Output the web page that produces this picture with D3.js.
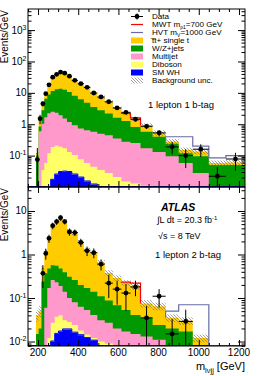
<!DOCTYPE html>
<html>
<head>
<meta charset="utf-8">
<script src="https://cdn.jsdelivr.net/npm/d3@7"></script>
<style>
  body { margin: 0; background: #fff; }
  text { font-family: "Liberation Sans", Arial, sans-serif; }
</style>
</head>
<body>
<svg id="chart" width="258" height="376"></svg>
<script>
// bin edges in GeV (shared by both panels)
var binEdges = [190, 203, 217, 231, 246, 263, 283, 302, 322, 344, 368, 398, 428, 460, 495, 532, 572, 615, 660, 710, 770, 835, 900, 970, 1050, 1135, 1230];

// 1 lepton 1 b-tag (Events/GeV)
var oneTagWH       = [0, 0, 0, 0, 0, 0.017, 0.025, 0.03, 0.031, 0.03, 0.025, 0.02, 0.015, 0.012, 0, 0, 0, 0, 0, 0, 0, 0, 0, 0, 0, 0];
var oneTagDiboson  = [0, 0, 0.035, 0.058, 0.12, 0.17, 0.185, 0.16, 0.14, 0.1, 0.08, 0.056, 0.043, 0.032, 0.035, 0.028, 0.021, 0.015, 0.013, 0.011, 0, 0, 0, 0, 0, 0];
var oneTagMultijet = [0, 0.6, 1.0, 1.6, 2.1, 2.3, 2.1, 1.75, 1.35, 1.05, 0.82, 0.65, 0.58, 0.53, 0.46, 0.42, 0.33, 0.26, 0.24, 0.16, 0.13, 0.095, 0.058, 0.028, 0, 0];
var oneTagWZ       = [0.1, 0.25, 1.75, 4.8, 6.6, 8.9, 10.6, 11.6, 11.0, 9.4, 7.1, 5.5, 4.2, 3.0, 2.3, 1.75, 1.25, 1.0, 0.57, 0.4, 0.27, 0.145, 0.062, 0.067, 0.05, 0.05];
var oneTagTtbar    = [0.02, 0.75, 1.8, 3.0, 9.2, 18.6, 25, 30.5, 29.5, 23.4, 17, 13.3, 10.2, 6.4, 4.6, 3.0, 1.8, 0.9, 0.68, 0.36, 0.13, 0.04, 0.03, 0.04, 0.008, 0.01];
var oneTagMWT      = [0, 0, 0, 0, 0, 0, 0, 0, 0, 0, 0, 0, 0, 0, 0, 0, 0, 0.06, 0.1, 0, 0, 0, 0, 0, 0, 0];
var oneTagHVT      = [0, 0, 0, 0, 0, 0, 0, 0, 0, 0, 0, 0, 0, 0, 0, 0, 0, 0, 0, 0, 0, 0.12, 0.25, 0.065, 0.027, 0.04];
var oneTagUnc      = [0.1, 0.1, 0.1, 0.1, 0.1, 0.1, 0.1, 0.1, 0.1, 0.1, 0.1, 0.1, 0.1, 0.1, 0.12, 0.12, 0.12, 0.12, 0.15, 0.15, 0.2, 0.2, 0.2, 0.2, 0.2, 0.2];
var oneTagData     = [0.075, 1.5, 4.5, 9.4, 18, 31.7, 39, 46, 42.5, 34, 25, 19.6, 15, 9.9, 7.4, 5.2, 3.3, 2.4, 1.44, 0.86, 0.53, 0.19, 0.1, 0.16, 0.022, 0.078];
var oneTagDataErr  = [0.1, 0.5, 0.8, 1.0, 1.4, 1.8, 2, 2.2, 2.2, 1.8, 1.3, 1.1, 0.9, 0.7, 0.5, 0.45, 0.35, 0.3, 0.2, 0.15, 0.12, 0.08, 0.06, 0.07, 0.021, 0.045];

// 1 lepton 2 b-tag (Events/GeV)
var twoTagWH       = [0, 0, 0, 0, 0, 0.01, 0.015, 0.017, 0.019, 0.019, 0.016, 0.014, 0.012, 0.0105, 0, 0, 0, 0, 0, 0, 0, 0, 0, 0, 0, 0];
var twoTagDiboson  = [0, 0, 0, 0, 0.012, 0.017, 0.022, 0.023, 0.012, 0.009, 0.008, 0.004, 0.0025, 0.0015, 0.01, 0.009, 0, 0, 0, 0, 0, 0, 0, 0, 0, 0];
var twoTagMultijet = [0, 0, 0, 0.06, 0.158, 0.233, 0.193, 0.15, 0.109, 0.072, 0.056, 0.045, 0.0385, 0.029, 0.021, 0.018, 0.02, 0.017, 0.015, 0.013, 0.011, 0, 0, 0, 0, 0];
var twoTagWZ       = [0.015, 0.02, 0.24, 0.31, 0.31, 0.31, 0.32, 0.29, 0.25, 0.21, 0.18, 0.137, 0.117, 0.099, 0.079, 0.061, 0.048, 0.036, 0.026, 0.022, 0.013, 0.02, 0.017, 0, 0, 0];
var twoTagTtbar    = [0.025, 0.03, 0.26, 0.83, 1.92, 3.93, 5.25, 6.02, 5.41, 3.39, 2.74, 1.8, 1.13, 0.91, 0.54, 0.29, 0.22, 0.17, 0.15, 0.04, 0.041, 0.015, 0.013, 0.012, 0, 0];
var twoTagMWT      = [0, 0, 0, 0, 0, 0, 0, 0, 0, 0, 0, 0, 0, 0, 0, 0, 0, 0.01, 0.03, 0, 0, 0, 0, 0, 0, 0];
var twoTagHVT      = [0, 0, 0, 0, 0, 0, 0, 0, 0, 0, 0, 0, 0, 0, 0, 0, 0, 0, 0, 0, 0, 0.015, 0.04, 0.058, 0, 0];
var twoTagUnc      = [0.3, 0.3, 0.1, 0.1, 0.1, 0.1, 0.1, 0.1, 0.1, 0.1, 0.1, 0.1, 0.1, 0.1, 0.15, 0.15, 0.15, 0.15, 0.2, 0.2, 0.2, 0.2, 0.2, 0.2, 0.2, 0.2];
var twoTagData     = [null, null, 0.37, 1.06, 2.35, 4.6, 5.7, 7.0, 5.7, 3.3, 3.2, 1.9, 1.22, 1.1, 0.6, 0.22, 0.16, 0.13, 0.18, 0.035, 0.11, 0.015, 0.029, null, null, null];
var twoTagDataErr  = [0, 0, 0.2, 0.3, 0.5, 0.8, 0.9, 1.0, 0.8, 0.6, 0.55, 0.4, 0.3, 0.28, 0.17, 0.12, 0.09, 0.08, 0.07, 0.03, 0.05, 0.018, 0.025, 0, 0, 0];

var legendLabels = ["Data", "MWT m\u03C11=700 GeV", "HVT mV=1000 GeV", "t\u0305t+ single t", "W/Z+jets", "Multijet", "Diboson", "SM WH", "Background unc."];

var colors = { ttbar: "#ffcc00", wz: "#009900", multijet: "#ff99cc", diboson: "#ffff66", wh: "#0000ff", mwt: "#ff0000", hvt: "#6a6aa8" };

var svg = d3.select("#chart");
var defs = svg.append("defs");
var hatch = defs.append("pattern")
  .attr("id", "hatch")
  .attr("patternUnits", "userSpaceOnUse")
  .attr("width", 3).attr("height", 3);
hatch.append("path")
  .attr("d", "M0,0 L3,3 M-1,2 L1,4 M2,-1 L4,1")
  .attr("stroke", "#777").attr("stroke-width", 0.7);

var x = d3.scaleLinear().domain([150, 1230]).range([28, 245]);

var layerKeys = ["wh", "diboson", "multijet", "wz", "ttbar"];

function drawPanel(p) {
  var y = d3.scaleLog().domain(p.yDomain).range([p.bottom, p.top]);
  var floor = p.yDomain[0];
  var yc = function(v) { return y(Math.max(v, floor)); };
  var g = svg.append("g");
  var nb = binEdges.length - 1;

  var rows = d3.range(nb).map(function(i) {
    return { wh: p.wh[i], diboson: p.diboson[i], multijet: p.multijet[i], wz: p.wz[i], ttbar: p.ttbar[i] };
  });
  var series = d3.stack().keys(layerKeys)(rows);
  var total = rows.map(function(r, i) { return series[series.length - 1][i][1]; });

  var clip = "clip" + p.id;
  defs.append("clipPath").attr("id", clip).append("rect")
    .attr("x", x.range()[0]).attr("y", p.top)
    .attr("width", x.range()[1] - x.range()[0]).attr("height", p.bottom - p.top);
  var plot = g.append("g").attr("clip-path", "url(#" + clip + ")");

  // stacked layers drawn from floor, largest first
  series.slice().reverse().forEach(function(s) {
    var pts = [];
    s.forEach(function(d, i) {
      pts.push([binEdges[i], d[1]]);
      pts.push([binEdges[i + 1], d[1]]);
    });
    plot.append("path")
      .attr("d", d3.area().x(function(d) { return x(d[0]); }).y0(p.bottom).y1(function(d) { return yc(d[1]); })(pts))
      .attr("fill", colors[s.key]);
  });

  // SM WH outline (runs along the floor where empty)
  var whPts = [[x.domain()[0], floor]];
  p.wh.forEach(function(v, i) {
    whPts.push([binEdges[i], v]);
    whPts.push([binEdges[i + 1], v]);
  });
  plot.append("path")
    .attr("d", d3.line().x(function(d) { return x(d[0]); }).y(function(d) { return yc(d[1]) - 0.5; })(whPts))
    .attr("fill", "none").attr("stroke", colors.wh).attr("stroke-width", 1);

  // background uncertainty
  var uncBins = d3.range(nb).filter(function(i) { return total[i] > 0; });
  plot.selectAll(".unc").data(uncBins).enter().append("rect")
    .attr("x", function(i) { return x(binEdges[i]); })
    .attr("width", function(i) { return x(binEdges[i + 1]) - x(binEdges[i]); })
    .attr("y", function(i) { return yc(total[i] * (1 + p.unc[i])); })
    .attr("height", function(i) { return yc(total[i] * (1 - p.unc[i])) - yc(total[i] * (1 + p.unc[i])); })
    .attr("fill", "url(#hatch)");

  // signal outlines stacked on background
  [["mwt", p.mwt], ["hvt", p.hvt]].forEach(function(sg) {
    var vals = sg[1];
    var i0 = vals.findIndex(function(v) { return v > 0; });
    if (i0 < 0) return;
    var pts = [[binEdges[i0], total[i0]]];
    var last = i0;
    for (var i = i0; i < nb; i++) {
      if (!(vals[i] > 0 || total[i] <= 0)) break;
      pts.push([binEdges[i], total[i] + vals[i]]);
      pts.push([binEdges[i + 1], total[i] + vals[i]]);
      last = i;
    }
    if (last < nb - 1) pts.push([binEdges[last + 1], total[last + 1]]);
    plot.append("path")
      .attr("d", d3.line().x(function(d) { return x(d[0]); }).y(function(d) { return yc(d[1]); })(pts))
      .attr("fill", "none").attr("stroke", colors[sg[0]]).attr("stroke-width", 1.2);
  });

  // data points
  var dat = p.data.map(function(v, i) { return { v: v, e: p.err[i], i: i }; }).filter(function(d) { return d.v != null; });
  var cx = function(d) { return x((binEdges[d.i] + binEdges[d.i + 1]) / 2); };
  var dg = plot.append("g");
  dg.selectAll(".eh").data(dat).enter().append("line")
    .attr("x1", function(d) { return x(binEdges[d.i]); })
    .attr("x2", function(d) { return x(binEdges[d.i + 1]); })
    .attr("y1", function(d) { return y(d.v); })
    .attr("y2", function(d) { return y(d.v); })
    .attr("stroke", "#000").attr("stroke-width", 1);
  dg.selectAll(".ev").data(dat).enter().append("line")
    .attr("x1", cx).attr("x2", cx)
    .attr("y1", function(d) { return yc(d.v - d.e); })
    .attr("y2", function(d) { return yc(d.v + d.e); })
    .attr("stroke", "#000").attr("stroke-width", 1);
  dg.selectAll("circle").data(dat).enter().append("circle")
    .attr("cx", cx)
    .attr("cy", function(d) { return y(d.v); })
    .attr("r", 2.4).attr("fill", "#000");

  // axes with inward ticks
  var majors = p.decades.map(function(e) { return Math.pow(10, e); });
  var minors = [];
  for (var e = Math.floor(Math.log10(floor)); e <= Math.ceil(Math.log10(p.yDomain[1])); e++) {
    for (var k = 2; k <= 9; k++) {
      var v = k * Math.pow(10, e);
      if (v >= floor && v <= p.yDomain[1]) minors.push(v);
    }
  }
  var xMajor = [200, 400, 600, 800, 1000, 1200];
  var xMinor = d3.range(150, 1231, 50).filter(function(v) { return xMajor.indexOf(v) < 0; });

  function axisG(axis, tr) {
    var a = g.append("g").attr("transform", tr).call(axis);
    a.select(".domain").remove();
    a.selectAll("line").attr("stroke", "#000");
    return a;
  }
  axisG(d3.axisLeft(y).tickValues(majors).tickSize(-7).tickFormat(""), "translate(28,0)");
  axisG(d3.axisLeft(y).tickValues(minors).tickSize(-3.5).tickFormat(""), "translate(28,0)");
  axisG(d3.axisRight(y).tickValues(majors).tickSize(-7).tickFormat(""), "translate(245,0)");
  axisG(d3.axisRight(y).tickValues(minors).tickSize(-3.5).tickFormat(""), "translate(245,0)");
  axisG(d3.axisBottom(x).tickValues(xMajor).tickSize(-6).tickFormat(""), "translate(0," + p.bottom + ")");
  axisG(d3.axisBottom(x).tickValues(xMinor).tickSize(-3).tickFormat(""), "translate(0," + p.bottom + ")");
  axisG(d3.axisTop(x).tickValues(xMajor).tickSize(-6).tickFormat(""), "translate(0," + p.top + ")");
  axisG(d3.axisTop(x).tickValues(xMinor).tickSize(-3).tickFormat(""), "translate(0," + p.top + ")");

  g.append("rect")
    .attr("x", 28).attr("y", p.top)
    .attr("width", 245 - 28).attr("height", p.bottom - p.top)
    .attr("fill", "none").attr("stroke", "#000").attr("stroke-width", 1);

  // y tick labels
  p.decades.forEach(function(e) {
    var t = g.append("text")
      .attr("x", 26.5).attr("y", y(Math.pow(10, e)) + 3.5)
      .attr("text-anchor", "end").attr("font-size", 10);
    if (e === 0) t.text("1");
    else if (e === 1) t.text("10");
    else {
      t.append("tspan").text("10");
      t.append("tspan").attr("dy", -4).attr("font-size", 7).text(e);
    }
  });

  g.append("text")
    .attr("transform", "translate(8," + (p.top + 1) + ") rotate(-90)")
    .attr("text-anchor", "end").attr("font-size", 10)
    .text("Events/GeV");

  return { y: y, g: g };
}

drawPanel({
  id: 1, top: 9, bottom: 187, yDomain: [0.01, 4700], decades: [-1, 0, 1, 2, 3],
  wh: oneTagWH, diboson: oneTagDiboson, multijet: oneTagMultijet, wz: oneTagWZ, ttbar: oneTagTtbar,
  mwt: oneTagMWT, hvt: oneTagHVT, unc: oneTagUnc, data: oneTagData, err: oneTagDataErr
});
drawPanel({
  id: 2, top: 187, bottom: 346, yDomain: [0.0079, 35.6], decades: [-2, -1, 0, 1],
  wh: twoTagWH, diboson: twoTagDiboson, multijet: twoTagMultijet, wz: twoTagWZ, ttbar: twoTagTtbar,
  mwt: twoTagMWT, hvt: twoTagHVT, unc: twoTagUnc, data: twoTagData, err: twoTagDataErr
});

// x tick labels
svg.selectAll(".xl").data([200, 400, 600, 800, 1000, 1200]).enter().append("text")
  .attr("x", function(d) { return x(d); })
  .attr("y", 356)
  .attr("text-anchor", "middle").attr("font-size", 10)
  .text(function(d) { return d; });

var xt = svg.append("text").attr("x", 245).attr("y", 370).attr("text-anchor", "end").attr("font-size", 11);
xt.append("tspan").text("m");
xt.append("tspan").attr("dy", 2.5).attr("font-size", 7.5).text("l\u03BDjj");
xt.append("tspan").attr("dy", -2.5).text(" [GeV]");

// legend
var lg = svg.append("g").attr("font-size", 8.1);
var fills = [null, null, null, colors.ttbar, colors.wz, colors.multijet, colors.diboson, colors.wh, "url(#hatch)"];
legendLabels.forEach(function(lab, i) {
  var yy = 16.5 + i * 8;
  var sw = lg.append("g");
  if (i === 0) {
    sw.append("line").attr("x1", 131).attr("x2", 143).attr("y1", yy).attr("y2", yy).attr("stroke", "#000");
    sw.append("line").attr("x1", 137).attr("x2", 137).attr("y1", yy - 3).attr("y2", yy + 3).attr("stroke", "#000");
    sw.append("circle").attr("cx", 137).attr("cy", yy).attr("r", 2.4);
  } else if (i === 1 || i === 2) {
    sw.append("line").attr("x1", 131).attr("x2", 143).attr("y1", yy).attr("y2", yy)
      .attr("stroke", i === 1 ? colors.mwt : colors.hvt).attr("stroke-width", 1.2);
  } else {
    sw.append("rect").attr("x", 131).attr("y", yy - 3).attr("width", 12).attr("height", 6).attr("fill", fills[i]);
  }
  var t = lg.append("text").attr("x", 152).attr("y", yy + 2.9);
  if (i === 1) {
    t.append("tspan").text("MWT m");
    t.append("tspan").attr("dy", 1.5).attr("font-size", 5).text("\u03C11");
    t.append("tspan").attr("dy", -1.5).text("=700 GeV");
  } else if (i === 2) {
    t.append("tspan").text("HVT m");
    t.append("tspan").attr("dy", 1.5).attr("font-size", 5).text("V");
    t.append("tspan").attr("dy", -1.5).text("=1000 GeV");
  } else t.text(lab);
});

svg.append("text").attr("x", 148).attr("y", 108).attr("font-size", 9.5).text("1 lepton 1 b-tag");

svg.append("text").attr("x", 161).attr("y", 211).attr("font-size", 10.5)
  .attr("font-weight", "bold").attr("font-style", "italic").text("ATLAS");
var lum = svg.append("text").attr("x", 157).attr("y", 223).attr("font-size", 9);
lum.append("tspan").text("\u222BL dt = 20.3 fb");
lum.append("tspan").attr("dy", -3.5).attr("font-size", 6).text("-1");
svg.append("text").attr("x", 158).attr("y", 239).attr("font-size", 9).text("\u221As = 8 TeV");
svg.append("text").attr("x", 155).attr("y", 258).attr("font-size", 9.5).text("1 lepton 2 b-tag");
</script>
</body>
</html>
